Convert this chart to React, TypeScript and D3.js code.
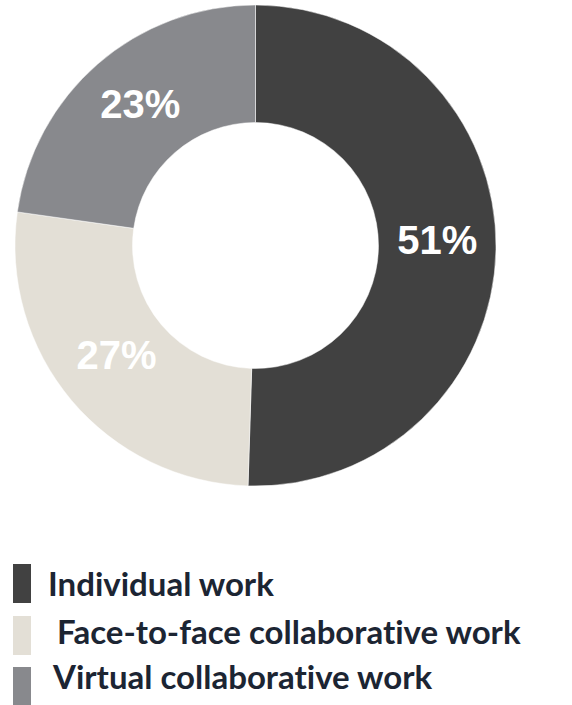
import React from "react";
import * as d3 from "d3";

const categories = ["Individual work", "Face-to-face collaborative work", "Virtual collaborative work"];
const values = [51, 27, 23];
const labels = ["51%", "27%", "23%"];
const colors = ["#414141", "#e3dfd6", "#88898d"];

// legend layout (pixels)
const legendTextX = [48, 57, 53];
const legendTextY = [596, 644, 689];
const legendSwatchY = [564, 616, 667];

const W = 572;
const H = 705;
const cx = 255.5;
const cy = 245.5;
const outerR = 240.5;
const innerR = 123;

export default function App() {
  const pie = d3.pie<number>().sort(null).value((d) => d)(values);
  const arc = d3.arc<d3.PieArcDatum<number>>().innerRadius(innerR).outerRadius(outerR);
  const labelArc = d3.arc<d3.PieArcDatum<number>>().innerRadius(innerR).outerRadius(outerR);

  return (
    <svg width={W} height={H} style={{ position: "absolute", left: 0, top: 0 }}>
      <rect width={W} height={H} fill="#ffffff" />
      <g transform={`translate(${cx},${cy})`}>
        {pie.map((p, i) => (
          <path key={i} d={arc(p) || ""} fill={colors[i]} stroke="#ffffff" strokeWidth={0.5} />
        ))}
        {pie.map((p, i) => {
          const [x, y] = labelArc.centroid(p);
          return (
            <text
              key={"l" + i}
              x={x + (i === 2 ? 4 : 0)}
              y={y}
              dy={i === 2 ? 10 : 6}
              textAnchor="middle"
              fill="#ffffff"
              fontFamily="'Liberation Sans', Arial, sans-serif"
              fontWeight="bold"
              fontSize={40}
            >
              {labels[i]}
            </text>
          );
        })}
      </g>
      <g>
        {categories.map((c, i) => (
          <g key={c}>
            <rect x={13} y={legendSwatchY[i]} width={18} height={39} fill={colors[i]} />
            <text
              x={legendTextX[i]}
              y={legendTextY[i]}
              fill="#1c2533"
              fontFamily="Lato, 'Open Sans', sans-serif"
              fontWeight={700}
              fontSize={33}
              style={{ fontVariantLigatures: "none" }}
            >
              {c}
            </text>
          </g>
        ))}
      </g>
    </svg>
  );
}
